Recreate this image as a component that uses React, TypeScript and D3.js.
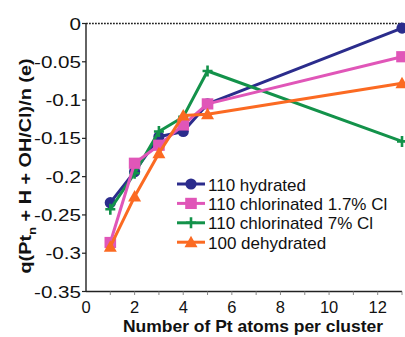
import React from "react";
import * as d3 from "d3";

// Cluster sizes (number of Pt atoms)
const clusterSizes = [1, 2, 3, 4, 5, 13];

// Charge per atom for each surface model
const hydrated110 = [-0.234, -0.1935, -0.148, -0.141, -0.105, -0.006];
const chlorinated110Low = [-0.286, -0.1825, -0.159, -0.1325, -0.105, -0.0434];
const chlorinated110High = [-0.2426, -0.1956, -0.141, -0.122, -0.062, -0.154];
const dehydrated100 = [-0.2915, -0.226, -0.1695, -0.12, -0.1185, -0.078];

const xTickLabels = [0, 2, 4, 6, 8, 10, 12];
const yTickLabels = [0, -0.05, -0.1, -0.15, -0.2, -0.25, -0.3, -0.35];

type MarkerKind = "circle" | "square" | "plus" | "triangle";

const seriesList: { name: string; values: number[]; color: string; marker: MarkerKind }[] = [
  { name: "110 hydrated", values: hydrated110, color: "#2b2c8c", marker: "circle" },
  { name: "110 chlorinated 1.7% Cl", values: chlorinated110Low, color: "#e056b8", marker: "square" },
  { name: "110 chlorinated 7% Cl", values: chlorinated110High, color: "#13924a", marker: "plus" },
  { name: "100 dehydrated", values: dehydrated100, color: "#fb6a22", marker: "triangle" },
];

// Paint order on the plot (green below pink, orange on top)
const drawOrder = [0, 2, 1, 3];

const W = 405;
const H = 337;

const x = d3.scaleLinear().domain([0, 13]).range([86, 402]);
const y = d3.scaleLinear().domain([-0.35, 0]).range([291.5, 23.5]);

const font = "'Liberation Sans', Arial, Helvetica, sans-serif";

function Marker({ kind, cx, cy, color }: { kind: MarkerKind; cx: number; cy: number; color: string }) {
  if (kind === "circle") return <circle cx={cx} cy={cy} r={5.6} fill={color} />;
  if (kind === "square")
    return <rect x={cx - 5.8} y={cy - 5.6} width={11.6} height={11.2} fill={color} />;
  if (kind === "triangle")
    return (
      <path
        d={`M${cx},${cy - 6.5} L${cx + 6.5},${cy + 5} L${cx - 6.5},${cy + 5} Z`}
        fill={color}
      />
    );
  return (
    <path
      d={`M${cx - 5},${cy} H${cx + 5} M${cx},${cy - 5.5} V${cy + 5.5}`}
      stroke={color}
      strokeWidth={2.6}
      fill="none"
    />
  );
}

export default function App() {
  const line = d3
    .line<number>()
    .x((_, i) => x(clusterSizes[i]))
    .y((v) => y(v));

  const minorTicks = d3.range(1, 14);
  const legendX0 = 177;
  const legendX1 = 205;
  const legendY0 = 184;
  const legendStep = 19.4;

  return (
    <svg
      width={W}
      height={H}
      style={{ position: "absolute", left: 0, top: 0, background: "#fff" }}
      fontFamily={font}
    >
      <rect x={0} y={0} width={W} height={H} fill="#fff" />

      {/* zero reference line */}
      <line
        x1={x(0)}
        x2={x(13)}
        y1={y(0)}
        y2={y(0)}
        stroke="#222"
        strokeWidth={1.6}
        strokeDasharray="1.8 1.2"
      />

      {/* y axis */}
      <line x1={x(0)} x2={x(0)} y1={y(0)} y2={y(-0.35)} stroke="#222" strokeWidth={1.4} />
      {yTickLabels.map((t) => (
        <g key={t}>
          <line x1={x(0) - 4} x2={x(0)} y1={y(t)} y2={y(t)} stroke="#222" strokeWidth={1.2} />
          <g transform={`translate(81,${y(t) + 6}) scale(1.25,1)`}>
            <text x={0} y={0} textAnchor="end" fontSize={16.5} fill="#111">
              {t === 0 ? "0" : String(t)}
            </text>
          </g>
        </g>
      ))}

      {/* x axis */}
      <line x1={x(0)} x2={x(13)} y1={y(-0.35)} y2={y(-0.35)} stroke="#222" strokeWidth={1.4} />
      {minorTicks.map((t) => (
        <line
          key={t}
          x1={x(t)}
          x2={x(t)}
          y1={y(-0.35)}
          y2={y(-0.35) + 3.5}
          stroke="#888"
          strokeWidth={1}
        />
      ))}
      {xTickLabels.map((t) => (
        <text key={t} x={x(t)} y={313} textAnchor="middle" fontSize={16.5} fill="#111">
          {t}
        </text>
      ))}

      {/* axis titles */}
      <text
        x={253}
        y={332}
        textAnchor="middle"
        fontSize={17}
        fontWeight="bold"
        fill="#111"
        textLength={260}
        lengthAdjust="spacingAndGlyphs"
      >
        Number of Pt atoms per cluster
      </text>
      <text
        transform="translate(31,166) rotate(-90)"
        textAnchor="middle"
        fontSize={16.5}
        fontWeight="bold"
        fill="#111"
        textLength={215}
        lengthAdjust="spacingAndGlyphs"
      >
        q(Pt
        <tspan fontSize={11} dy={5}>n</tspan>
        <tspan dy={-5}> + H + OH/Cl)/n (e)</tspan>
      </text>

      {/* series */}
      {drawOrder.map((si) => {
        const s = seriesList[si];
        return (
          <g key={s.name}>
            <path d={line(s.values) ?? ""} fill="none" stroke={s.color} strokeWidth={3} strokeLinejoin="round" />
            {s.values.map((v, i) => (
              <Marker key={i} kind={s.marker} cx={x(clusterSizes[i])} cy={y(v)} color={s.color} />
            ))}
          </g>
        );
      })}

      {/* legend */}
      {seriesList.map((s, i) => {
        const ly = legendY0 + i * legendStep;
        return (
          <g key={s.name}>
            <line x1={legendX0} x2={legendX1} y1={ly} y2={ly} stroke={s.color} strokeWidth={3} />
            <Marker kind={s.marker} cx={(legendX0 + legendX1) / 2} cy={ly} color={s.color} />
            <text x={208} y={ly + 6.5} fontSize={17} fill="#111">
              {s.name}
            </text>
          </g>
        );
      })}
    </svg>
  );
}
